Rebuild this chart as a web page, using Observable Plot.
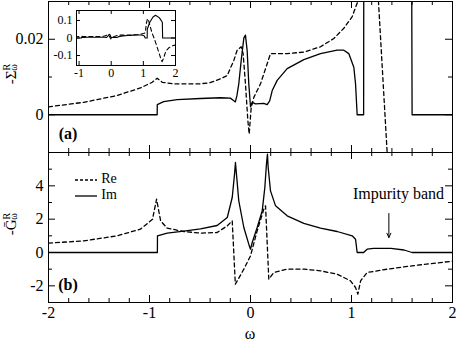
<!DOCTYPE html>
<html><head><meta charset="utf-8">
<script src="https://cdn.jsdelivr.net/npm/d3@7"></script>
<script src="https://cdn.jsdelivr.net/npm/@observablehq/plot@0.6"></script>
<style>
body{margin:0;background:#fff}
#c{position:relative;width:457px;height:342px;background:#fff}
#c svg{position:absolute;left:0;overflow:visible}
</style>
</head><body><div id="c"></div>
<script>
// ---- data: self-energy -Sigma^R (top panel + inset) ----
const sigImX = [-2, -0.924, -0.923, -0.86, -0.726, -0.495, -0.297, -0.2, -0.165, -0.15, -0.135, -0.116, -0.092, -0.066, -0.05, -0.033, -0.017, 0, 0.017, 0.05, 0.13, 0.165, 0.19, 0.215, 0.264, 0.363, 0.528, 0.693, 0.858, 0.924, 0.973, 1.023, 1.04, 1.056, 1.12, 1.122, 1.2, 1.3, 1.38, 1.5, 1.59, 1.6, 2];
const sigImY = [0, 0, 0.0027, 0.0035, 0.004, 0.0043, 0.0045, 0.0044, 0.0037, 0.0034, 0.005, 0.0082, 0.0144, 0.0203, 0.0211, 0.017, 0.0082, 0.0021, 0.0033, 0.0029, 0.003, 0.0027, 0.0037, 0.0064, 0.0091, 0.0122, 0.0146, 0.0162, 0.0171, 0.0171, 0.0162, 0.0126, 0.0082, 0, 0, 0.05, 0.09, 0.12, 0.13, 0.115, 0.09, 0, 0];
const sigReX = [-2, -1.65, -1.32, -1.09, -0.973, -0.924, -0.874, -0.76, -0.495, -0.4, -0.297, -0.23, -0.165, -0.132, -0.092, -0.073, -0.05, -0.026, -0.013, 0.007, 0.033, 0.099, 0.165, 0.198, 0.363, 0.528, 0.693, 0.825, 0.924, 1.007, 1.062, 1.09, 1.12, 1.14, 1.17, 1.267, 1.353, 1.45, 1.53, 1.58, 1.62, 1.7, 1.8, 1.9, 2];
const sigReY = [0.0021, 0.0033, 0.0051, 0.0071, 0.0086, 0.0097, 0.0086, 0.0082, 0.0082, 0.0085, 0.0095, 0.0104, 0.0144, 0.0171, 0.018, 0.0162, 0.0082, -0.0016, -0.0051, 0.0019, 0.0046, 0.0082, 0.0135, 0.0162, 0.0162, 0.0166, 0.018, 0.0202, 0.0229, 0.026, 0.03, 0.08, 0.105, 0.11, 0.095, 0.03, -0.01, -0.065, -0.11, -0.135, -0.12, -0.075, -0.055, -0.045, -0.04];

// ---- data: Green's function -G^R (bottom panel) ----
const gImX = [-2, -0.922, -0.921, -0.825, -0.66, -0.495, -0.33, -0.23, -0.181, -0.158, -0.149, -0.139, -0.116, -0.066, -0.017, 0, 0.017, 0.066, 0.116, 0.142, 0.158, 0.168, 0.175, 0.198, 0.248, 0.363, 0.528, 0.693, 0.858, 1.007, 1.04, 1.056, 1.12, 1.155, 1.22, 1.39, 1.52, 1.6, 2];
const gImY = [0, 0, 1.0, 1.16, 1.28, 1.42, 1.62, 2.1, 3.3, 4.7, 5.4, 4.7, 3.1, 1.5, 0.5, 0.2, 0.6, 1.5, 2.5, 3.9, 5.3, 5.9, 5.1, 3.7, 2.8, 2.2, 1.75, 1.46, 1.26, 1.0, 0.8, 0, 0, 0.2, 0.25, 0.25, 0.15, 0, 0];
const gReX = [-2, -1.65, -1.32, -1.09, -0.97, -0.93, -0.89, -0.825, -0.66, -0.495, -0.33, -0.23, -0.181, -0.15, -0.066, 0, 0.066, 0.132, 0.149, 0.181, 0.231, 0.363, 0.528, 0.693, 0.858, 0.99, 1.04, 1.063, 1.09, 1.155, 1.353, 1.6, 2];
const gReY = [0.56, 0.7, 1.0, 1.4, 2.0, 3.2, 1.9, 1.46, 1.26, 1.16, 1.2, 1.6, 1.9, -1.9, -1.0, -0.2, 1.3, 2.6, 2.8, -1.6, -1.2, -1.0, -1.0, -1.1, -1.3, -1.7, -2.1, -2.5, -1.7, -1.2, -1.0, -0.8, -0.52];

// ---- ticks ----
const xMajor = [-2, -1, 0, 1, 2];
const xMinor = [-1.8, -1.6, -1.4, -1.2, -0.8, -0.6, -0.4, -0.2, 0.2, 0.4, 0.6, 0.8, 1.2, 1.4, 1.6, 1.8];
const topYMajor = [0, 0.02];
const topYMinor = [0.01];
const botYMajor = [-2, 0, 2, 4];
const botYMinor = [-1, 1, 3, 5];
const insetXMajor = [-1, 0, 1, 2];
const insetYMajor = [-0.1, 0, 0.1];

// ---- annotations ----
const seriesNames = ["Re", "Im"];
const bandLabel = "Impurity band";
const bandLabelPos = {x: 1.465, y: 3.5};
const arrowSpec = [{x1: 1.37, y1: 2.34, x2: 1.37, y2: 0.9}];

const rows = (X, Y) => X.map((x, i) => ({x, y: Y[i]}));
const sigIm = rows(sigImX, sigImY), sigRe = rows(sigReX, sigReY);
const gIm = rows(gImX, gImY), gRe = rows(gReX, gReY);

const SERIF = '"Liberation Serif", "Times New Roman", serif';
const W = 457, mL = 48, mR = 5;
const innerW = W - mL - mR;
const DASH = "4,3";
const LW = 1.3;

function ticks(xMaj, xMin, yMaj, yMin, iw, ih, maj, min) {
  const id = d => d;
  const m = [];
  for (const [arr, len] of [[xMaj, maj], [xMin, min]]) {
    m.push(Plot.ruleX(arr, {x: id, insetBottom: ih - len, stroke: "black"}));
    m.push(Plot.ruleX(arr, {x: id, insetTop: ih - len, stroke: "black"}));
  }
  for (const [arr, len] of [[yMaj, maj], [yMin, min]]) {
    m.push(Plot.ruleY(arr, {y: id, insetRight: iw - len, stroke: "black"}));
    m.push(Plot.ruleY(arr, {y: id, insetLeft: iw - len, stroke: "black"}));
  }
  return m;
}

function yTitle(svg, cx, cy, main) {
  const t = d3.select(svg).append("text")
    .attr("transform", `translate(${cx},${cy}) rotate(-90)`)
    .attr("text-anchor", "middle")
    .attr("fill", "black")
    .style("font-family", SERIF).style("font-size", "15px");
  t.append("tspan").text(main);
  t.append("tspan").attr("font-size", 10).attr("dy", -6).text("R");
  t.append("tspan").attr("font-size", 10).attr("dx", -7).attr("dy", 7).text("ω");
}

// ---- top panel ----
const topH = 152, topMT = 1, topMB = 0;
const topIH = topH - topMT - topMB;
const topPlot = Plot.plot({
  width: W, height: topH, marginTop: topMT, marginBottom: topMB, marginLeft: mL, marginRight: mR,
  style: {fontFamily: SERIF, fontSize: "16px", background: "transparent", color: "black"},
  x: {domain: [-2, 2], axis: null},
  y: {domain: [-0.01, 0.03]},
  marks: [
    Plot.line(sigRe, {x: "x", y: "y", stroke: "black", strokeWidth: LW, strokeDasharray: DASH, clip: true}),
    Plot.line(sigIm, {x: "x", y: "y", stroke: "black", strokeWidth: LW, clip: true}),
    ...ticks(xMajor, xMinor, topYMajor, topYMinor, innerW, topIH, 7, 4),
    Plot.axisY(topYMajor, {tickSize: 0, tickPadding: 5, tickFormat: d => String(d), label: null}),
    Plot.frame({stroke: "black"})
  ]
});
topPlot.style.top = "0px";

// ---- bottom panel ----
const botTop = 151;
const botH = 342 - botTop, botMT = 1, botMB = 40;
const botIH = botH - botMT - botMB;
const botPlot = Plot.plot({
  width: W, height: botH, marginTop: botMT, marginBottom: botMB, marginLeft: mL, marginRight: mR,
  style: {fontFamily: SERIF, fontSize: "16px", background: "transparent", color: "black"},
  x: {domain: [-2, 2]},
  y: {domain: [-3, 6]},
  marks: [
    Plot.line(gRe, {x: "x", y: "y", stroke: "black", strokeWidth: LW, strokeDasharray: DASH, clip: true}),
    Plot.line(gIm, {x: "x", y: "y", stroke: "black", strokeWidth: LW, clip: true}),
    ...ticks(xMajor, xMinor, botYMajor, botYMinor, innerW, botIH, 7, 4),
    Plot.axisY(botYMajor, {tickSize: 0, tickPadding: 5, tickFormat: d => String(d), label: null}),
    Plot.axisX(xMajor, {tickSize: 0, tickPadding: 4, tickFormat: d => String(d), label: null}),
    Plot.text([bandLabel], {x: bandLabelPos.x, y: bandLabelPos.y, text: d => d, fontSize: 16, fill: "black"}),
    Plot.arrow(arrowSpec, {x1: "x1", y1: "y1", x2: "x2", y2: "y2", stroke: "black", strokeWidth: 1, headLength: 7, headAngle: 50}),
    Plot.frame({stroke: "black"})
  ]
});
botPlot.style.top = botTop + "px";

// ---- inset ----
const inW = 180, inH = 80, inML = 76, inMR = 5, inMT = 10, inMB = 15;
const insetPlot = Plot.plot({
  width: inW, height: inH, marginTop: inMT, marginBottom: inMB, marginLeft: inML, marginRight: inMR,
  style: {fontFamily: SERIF, fontSize: "12px", background: "transparent", color: "black"},
  x: {domain: [-1.08, 2]},
  y: {domain: [-0.157, 0.157]},
  marks: [
    Plot.line(sigRe, {x: "x", y: "y", stroke: "black", strokeWidth: 1.1, strokeDasharray: DASH, clip: true}),
    Plot.line(sigIm, {x: "x", y: "y", stroke: "black", strokeWidth: 1.1, clip: true}),
    ...ticks(insetXMajor, [], insetYMajor, [], inW - inML - inMR, inH - inMT - inMB, 4, 2),
    Plot.axisY(insetYMajor, {tickSize: 0, tickPadding: 4, tickFormat: d => String(d), label: null}),
    Plot.axisX(insetXMajor, {tickSize: 0, tickPadding: 3, tickFormat: d => String(d), label: null}),
    Plot.frame({stroke: "black"})
  ]
});
insetPlot.style.top = "0px";

const c = document.getElementById("c");
c.append(topPlot, botPlot, insetPlot);

// axis titles and panel labels
yTitle(topPlot, 16, 74, "-Σ");
yTitle(botPlot, 16, 73, "-G\u0304");
d3.select(botPlot).append("text").attr("x", 250).attr("y", 184).attr("text-anchor", "middle")
  .attr("dominant-baseline", "middle").style("font-family", SERIF).style("font-size", "16px").text("ω");
d3.select(topPlot).append("text").attr("x", 68).attr("y", 139).style("font-family", SERIF)
  .style("font-size", "16px").style("font-weight", "bold").text("(a)");
d3.select(botPlot).append("text").attr("x", 68).attr("y", 139).style("font-family", SERIF)
  .style("font-size", "16px").style("font-weight", "bold").text("(b)");

// legend
const lg = d3.select(botPlot).append("g");
const legY = [29, 45];
seriesNames.forEach((name, i) => {
  lg.append("line").attr("x1", 75).attr("x2", 97).attr("y1", legY[i]).attr("y2", legY[i])
    .attr("stroke", "black").attr("stroke-width", LW).attr("stroke-dasharray", i === 0 ? "3,2" : null);
  lg.append("text").attr("x", 109).attr("y", legY[i]).attr("dominant-baseline", "middle")
    .style("font-family", SERIF).style("font-size", "14px").text(name);
});
</script>
</body></html>
